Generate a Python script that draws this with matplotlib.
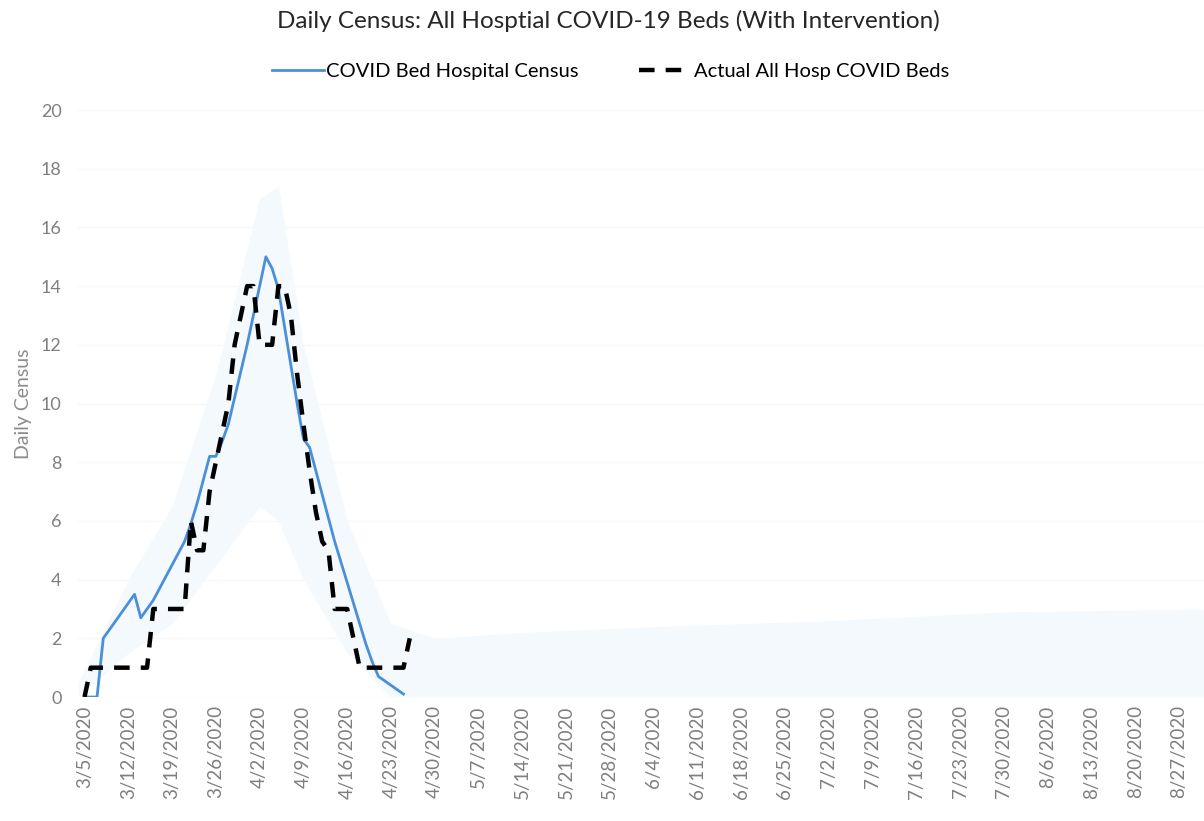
import pandas as pd
import matplotlib.pyplot as plt

plt.rcParams['font.family'] = ['Lato', 'DejaVu Sans']

# 모델 추정치 (일별, 3/5 부터)
model_start = '2020-03-05'
model_census = [0, 0, 0, 2.0, 2.3, 2.6, 2.9, 3.2, 3.5, 2.7,
                3.0, 3.3, 3.7, 4.1, 4.5, 4.9, 5.3, 5.9, 6.6, 7.4,
                8.2, 8.2, 8.7, 9.3, 10.2, 11.1, 12.0, 13.0, 14.0, 15.0,
                14.6, 13.9, 12.6, 11.3, 10.0, 8.8, 8.5, 7.7, 6.9, 6.1,
                5.3, 4.6, 3.9, 3.2, 2.5, 1.8, 1.2, 0.7, 0.55, 0.4,
                0.25, 0.1]

# 실제 병상 수 (일별)
actual_beds = [0, 1, 1, 1, 1, 1, 1, 1, 1, 1,
               1, 3, 3, 3, 3, 3, 3, 6, 5, 5,
               7, 8, 9, 10, 12, 13, 14, 14, 12, 12,
               12, 14, 14, 13, 11, 9.3, 7.7, 6.3, 5.3, 5,
               3, 3, 3, 2, 1, 1, 1, 1, 1, 1,
               1, 1, 2]

# 신뢰구간 (대략)
band_dates = ['2020-03-04', '2020-03-12', '2020-03-19', '2020-03-26', '2020-04-02',
              '2020-04-05', '2020-04-09', '2020-04-16', '2020-04-23', '2020-04-30',
              '2020-05-14', '2020-06-04', '2020-07-02', '2020-07-30', '2020-09-01']
band_upper = [0.5, 4.0, 6.5, 11.0, 17.0, 17.4, 12.0, 6.0, 2.5, 2.0,
              2.2, 2.4, 2.6, 2.9, 3.0]
band_lower = [0, 1.5, 2.5, 4.5, 6.5, 6.0, 4.0, 1.5, 0, 0,
              0, 0, 0, 0, 0]

x_model = pd.date_range(model_start, periods=len(model_census), freq='D')
x_actual = pd.date_range(model_start, periods=len(actual_beds), freq='D')
x_band = pd.to_datetime(band_dates)
ticks = pd.date_range('2020-03-05', '2020-08-27', freq='7D')
tick_labels = [f'{d.month}/{d.day}/{d.year}' for d in ticks]

fig = plt.figure(figsize=(12.04, 8.21), dpi=100)
ax = fig.add_axes([0.065, 0.151, 0.935, 0.715])

ax.fill_between(x_band, band_lower, band_upper, color='#F4F9FD', lw=0, zorder=1)
ax.plot(x_model, model_census, color='#4A90D9', lw=2, zorder=3,
        label='COVID Bed Hospital Census')
ax.plot(x_actual, actual_beds, color='black', lw=3.2, dashes=(3.5, 2.5),
        zorder=4, label='Actual All Hosp COVID Beds')

ax.set_ylim(0, 20)
ax.set_yticks(range(0, 21, 2))
ax.set_xlim(pd.Timestamp('2020-03-04'), pd.Timestamp('2020-08-31'))
ax.set_xticks(ticks)
ax.set_xticklabels(tick_labels, rotation=90)
ax.tick_params(axis='both', length=0, colors='#7F7F7F')
ax.tick_params(axis='x', pad=6, labelsize=13.5)
ax.tick_params(axis='y', pad=12, labelsize=13)
ax.grid(axis='y', color='#F8F8F8', lw=1)
ax.set_axisbelow(True)
for s in ax.spines.values():
    s.set_visible(False)

ax.set_ylabel('Daily Census', color='#8C8C8C', fontsize=14, labelpad=6)

fig.suptitle('Daily Census: All Hosptial COVID-19 Beds (With Intervention)',
             x=0.505, y=0.988, fontsize=17.5, color='#262626')
fig.legend(loc='center', bbox_to_anchor=(0.507, 0.913), ncol=2, frameon=False,
           fontsize=14.5, handlelength=2.6, columnspacing=3, handletextpad=0.1)

plt.savefig('out.png', dpi=100)
